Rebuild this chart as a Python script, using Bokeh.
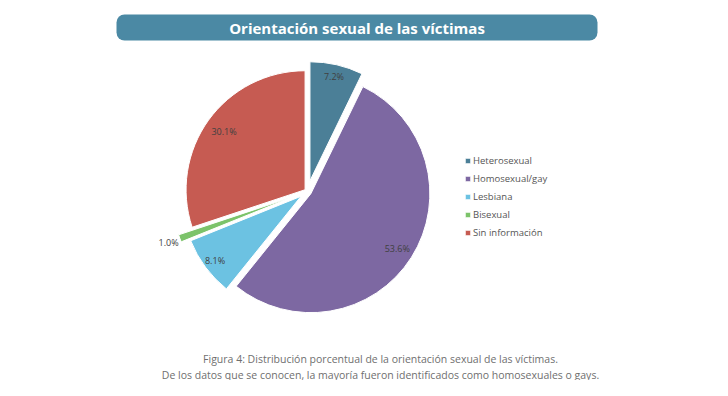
import math
from bokeh.plotting import figure
from bokeh.models import ColumnDataSource, Range1d, Legend, LegendItem
from bokeh.core.properties import value
from bokeh.embed import file_html
from bokeh.resources import INLINE

# ---- data ----
categories = ["Heterosexual", "Homosexual/gay", "Lesbiana", "Bisexual", "Sin información"]
percentages = [7.2, 53.6, 8.1, 1.0, 30.1]
pct_labels = ["7.2%", "53.6%", "8.1%", "1.0%", "30.1%"]
title_text = "Orientación sexual de las víctimas"
caption_lines = [
    "Figura 4: Distribución porcentual de la orientación sexual de las víctimas.",
    "De los datos que se conocen, la mayoría fueron identificados como homosexuales o gays.",
]

# ---- style ----
colors = ["#4b7f97", "#7d68a2", "#6cc2e2", "#7cc36a", "#c65b52"]
explode = [11, 4, 8, 17, 3]          # px offset of each slice
label_r = [0.90, 0.86, 0.90, 1.10, 0.84]
FONT = "Open Sans"

W, H = 712, 380
p = figure(width=W, height=H, output_backend="svg", toolbar_location=None,
           x_range=Range1d(0, W), y_range=Range1d(0, H), min_border=0)
p.axis.visible = False
p.grid.visible = False
p.outline_line_color = None
p.background_fill_color = "white"

def Y(img_y):
    return H - img_y

cx, cy, R = 307, Y(191), 119

total = sum(percentages)
xs, ys, starts, ends, lx, ly = [], [], [], [], [], []
cum = 0.0
for v, d, lr in zip(percentages, explode, label_r):
    a0 = math.radians(90 - 360 * cum / total)
    cum += v
    a1 = math.radians(90 - 360 * cum / total)
    mid = (a0 + a1) / 2
    ox, oy = cx + d * math.cos(mid), cy + d * math.sin(mid)
    xs.append(ox); ys.append(oy); starts.append(a0); ends.append(a1)
    lx.append(ox + lr * R * math.cos(mid)); ly.append(oy + lr * R * math.sin(mid))

src = ColumnDataSource(dict(x=xs, y=ys, start=starts, end=ends, color=colors,
                            cat=categories, lx=lx, ly=ly, lab=pct_labels))
wr = p.wedge(x="x", y="y", radius=R, start_angle="start", end_angle="end",
             direction="clock", fill_color="color", line_color="white",
             line_width=1, source=src)

p.text(x="lx", y="ly", text="lab", source=src, text_align="center",
       text_baseline="middle", text_font=value(FONT), text_font_size="9px",
       text_color="#404040")

# title banner
p.rect(x=[356.5], y=[Y(27)], width=[481], height=[26], fill_color="#4b89a4",
       line_color=None, border_radius=8)
p.text(x=[356.5], y=[Y(27)], text=[title_text], text_align="center",
       text_baseline="middle", text_font=value(FONT), text_font_style="bold",
       text_font_size="15px", text_color="white")

# caption
p.text(x=[380, 380], y=[Y(358), Y(374)], text=caption_lines, text_align="center",
       text_baseline="middle", text_font=value(FONT), text_font_size="10.5px",
       text_color="#6f6f6f")

items = [LegendItem(label=c, renderers=[wr], index=i) for i, c in enumerate(categories)]
legend = Legend(items=items, location=(464, 141), padding=0, margin=0,
                spacing=5, label_height=12, glyph_height=7, glyph_width=7,
                label_standoff=2, label_text_font=FONT, label_text_font_size="9.5px",
                label_text_color="#555555", background_fill_alpha=0,
                border_line_color=None)
p.add_layout(legend, "center")

open("out.html", "w").write(file_html(p, INLINE))
